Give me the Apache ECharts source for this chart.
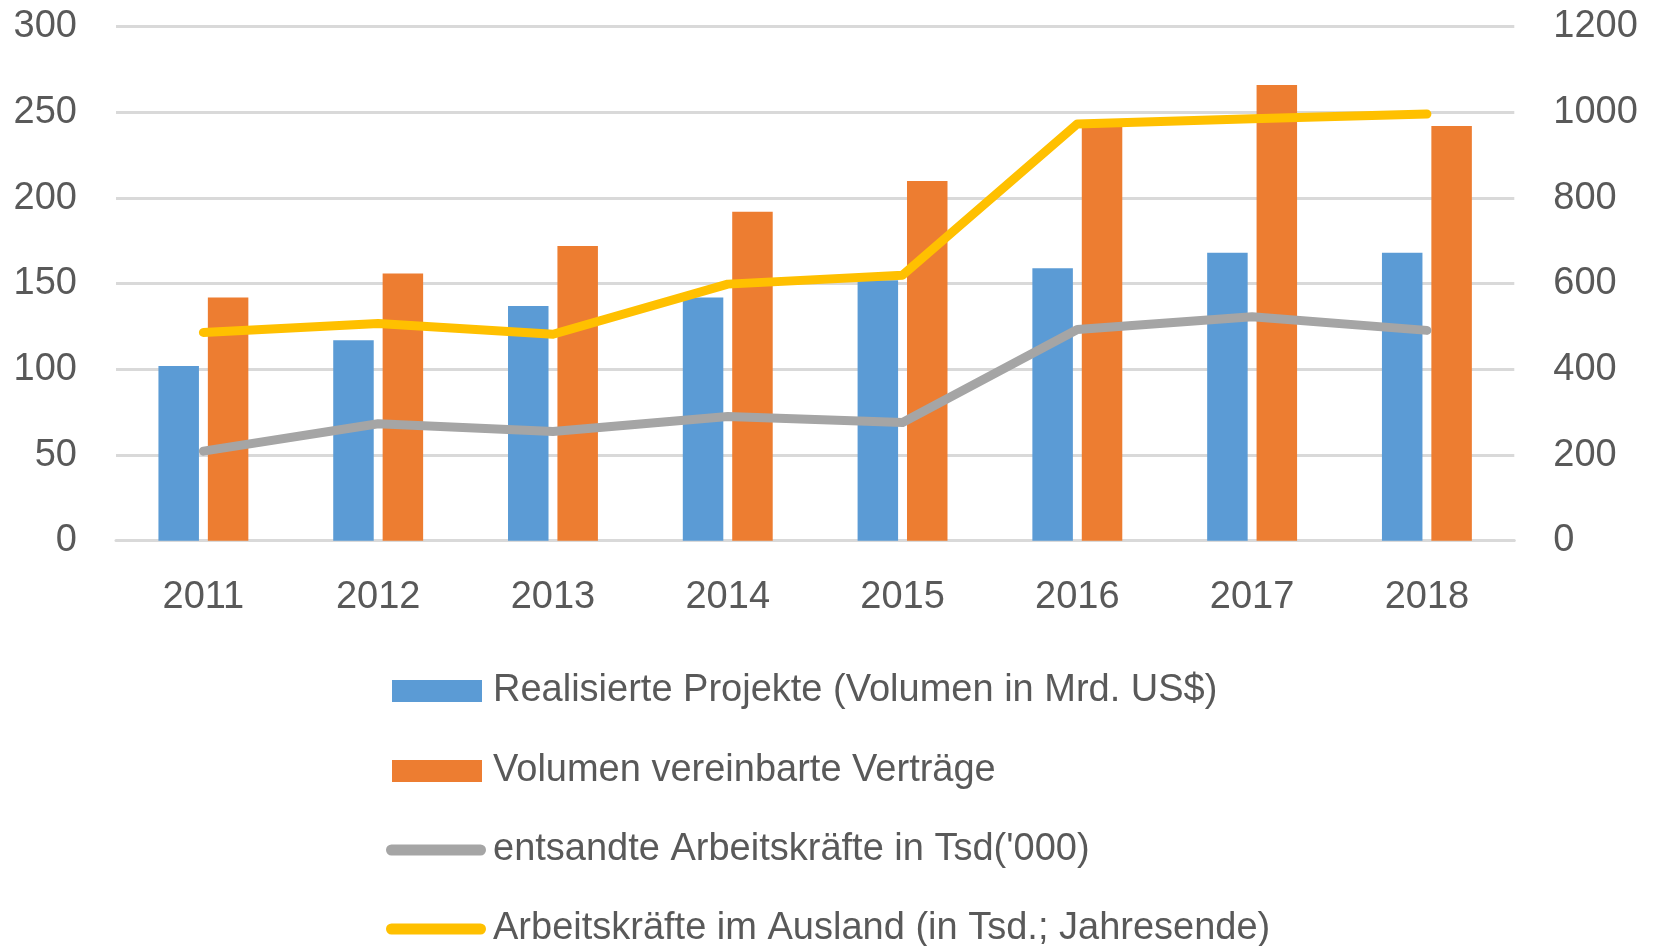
<!DOCTYPE html>
<html>
<head>
<meta charset="utf-8">
<script src="https://cdn.jsdelivr.net/npm/echarts@6/dist/echarts.min.js"></script>
<style>
html,body{margin:0;padding:0;background:#fff;}
#chart{width:1659px;height:946px;}
</style>
</head>
<body>
<div id="chart"></div>
<script>
const years = ['2011','2012','2013','2014','2015','2016','2017','2018'];
const realisierteProjekte = [102, 117, 137, 142, 152, 159, 168, 168];
const vereinbarteVertraege = [142, 156, 172, 192, 210, 242, 266, 242];
const entsandteArbeitskraefte = [209, 273, 255, 290, 276, 493, 523, 491];
const arbeitskraefteAusland = [486, 507, 482, 599, 620, 973, 985, 996];
const leftTicks = {min: 0, max: 300, interval: 50};
const rightTicks = {min: 0, max: 1200, interval: 200};
const seriesNames = [
  'Realisierte Projekte (Volumen in Mrd. US$)',
  'Volumen vereinbarte Verträge',
  "entsandte Arbeitskräfte in Tsd('000)",
  'Arbeitskräfte im Ausland (in Tsd.; Jahresende)'
];

const FONT = '"Liberation Sans", Arial, sans-serif';
const TXT = '#595959';
const COLORS = ['#5B9BD5', '#ED7D31', '#A5A5A5', '#FFC000'];
const capsule = 'path://M5.5,0 L94.5,0 A5.5,5.5 0 0 1 94.5,11 L5.5,11 A5.5,5.5 0 0 1 5.5,0 Z';

function legendFor(i, top) {
  const isLine = i >= 2;
  return {
    orient: 'vertical',
    left: isLine ? 386 : 392,
    top: top,
    padding: 0,
    itemWidth: isLine ? 100 : 90,
    itemHeight: isLine ? 11 : 22,
    selectedMode: false,
    data: [{name: seriesNames[i], icon: isLine ? capsule : 'rect'}],
    textStyle: {fontFamily: FONT, fontSize: 38, color: TXT, lineHeight: 40,
      padding: [0, 0, 0, isLine ? 2 : 6]},
    itemStyle: {borderWidth: 0},
    lineStyle: {width: 0}
  };
}

const plainNum = function (v) { return String(v); };

const chart = echarts.init(document.getElementById('chart'), null, {renderer: 'canvas'});
chart.setOption({
  animation: false,
  color: COLORS,
  grid: {left: 116, right: 144.7, top: 26.7, bottom: 405.3, containLabel: false},
  legend: [legendFor(0, 671), legendFor(1, 751), legendFor(2, 830), legendFor(3, 909)],
  xAxis: {
    type: 'category',
    data: years,
    axisTick: {show: false},
    axisLine: {show: true, lineStyle: {color: '#D9D9D9', width: 3}},
    axisLabel: {fontFamily: FONT, fontSize: 38, color: TXT, margin: 38}
  },
  yAxis: [
    {
      type: 'value', position: 'left',
      min: leftTicks.min, max: leftTicks.max, interval: leftTicks.interval,
      axisLine: {show: false}, axisTick: {show: false},
      splitLine: {show: true, lineStyle: {color: '#D9D9D9', width: 3}},
      axisLabel: {fontFamily: FONT, fontSize: 38, color: TXT, margin: 39,
        padding: [4, 0, 0, 0], formatter: plainNum}
    },
    {
      type: 'value', position: 'right',
      min: rightTicks.min, max: rightTicks.max, interval: rightTicks.interval,
      axisLine: {show: false}, axisTick: {show: false},
      splitLine: {show: false},
      axisLabel: {fontFamily: FONT, fontSize: 38, color: TXT, margin: 39,
        padding: [4, 0, 0, 0], formatter: plainNum}
    }
  ],
  series: [
    {
      name: seriesNames[0], type: 'bar', yAxisIndex: 0,
      data: realisierteProjekte, barWidth: 40.5, barGap: '22%',
      itemStyle: {color: COLORS[0]}
    },
    {
      name: seriesNames[1], type: 'bar', yAxisIndex: 0,
      data: vereinbarteVertraege, barWidth: 40.5, barGap: '22%',
      itemStyle: {color: COLORS[1]}
    },
    {
      name: seriesNames[2], type: 'line', yAxisIndex: 1,
      data: entsandteArbeitskraefte, showSymbol: false, symbol: 'none',
      itemStyle: {color: COLORS[2]},
      lineStyle: {color: COLORS[2], width: 9, cap: 'round', join: 'round'}
    },
    {
      name: seriesNames[3], type: 'line', yAxisIndex: 1,
      data: arbeitskraefteAusland, showSymbol: false, symbol: 'none',
      itemStyle: {color: COLORS[3]},
      lineStyle: {color: COLORS[3], width: 9, cap: 'round', join: 'round'}
    }
  ]
});
</script>
</body>
</html>
